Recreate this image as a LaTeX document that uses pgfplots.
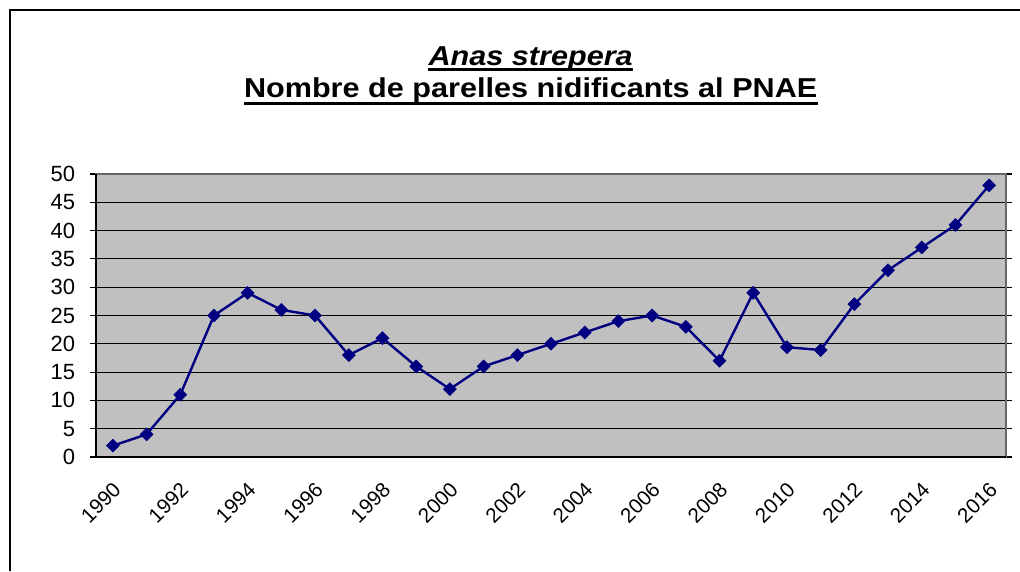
\documentclass[border=0pt]{standalone}
\usepackage{pgfplots}
\pgfplotsset{compat=1.18}
\usepackage{fontspec}
\setmainfont{Liberation Sans}
\definecolor{navy}{HTML}{000080}
\definecolor{plotgray}{HTML}{C0C0C0}
\begin{document}
\begin{tikzpicture}
\useasboundingbox (0,0) rectangle (765pt,428.25pt);
\fill[white] (0,0) rectangle (765pt,428.25pt);
\draw[black, line width=1.1pt] (7.5pt,0) -- (7.5pt,420.75pt) -- (765pt,420.75pt);
\node[anchor=base, inner sep=0pt, xscale=1.12, font=\fontsize{20.5}{24}\selectfont\bfseries\itshape] (t1) at (398pt,379pt) {Anas strepera};
\draw[line width=2pt] ([yshift=-3pt]t1.base west) -- ([yshift=-3pt]t1.base east);
\node[anchor=base, inner sep=0pt, xscale=1.12, font=\fontsize{20.5}{24}\selectfont\bfseries] (t2) at (398pt,355pt) {Nombre de parelles nidificants al PNAE};
\draw[line width=2pt] ([yshift=-4.5pt]t2.base west) -- ([yshift=-4.5pt]t2.base east);
\begin{axis}[
  at={(72pt,85.5pt)}, anchor=south west,
  scale only axis, width=682.5pt, height=212.25pt,
  xmin=-0.5, xmax=26.5, ymin=0, ymax=50,
  axis background/.style={fill=plotgray},
  axis line style={draw=gray!80!black, line width=1pt},
  ytick={0,5,...,50},
  xtick={0,2,...,26},
  xticklabels={1990,1992,1994,1996,1998,2000,2002,2004,2006,2008,2010,2012,2014,2016},
  minor xtick={-0.5,0.5,...,26.5},
  x tick label style={font=\fontsize{15.5}{17}\selectfont, rotate=45, anchor=north east, inner sep=0pt, yshift=-9pt, xshift=-10pt},
  y tick label style={font=\fontsize{16.5}{18}\selectfont, anchor=east, inner sep=0pt, xshift=-11pt},
  /pgf/number format/assume math mode=true,
  tick align=outside,
  xtick style={draw=none},
  minor x tick style={black, line width=0.8pt},
  minor tick length=4.5pt,
  ytick style={black, line width=0.8pt},
  major tick length=4.5pt,
  ymajorgrids, grid style={black, line width=0.8pt},
  xmajorgrids=false,
  clip=false,
]
\addplot[navy, line width=1.8pt, mark=square*, mark size=3.4pt, mark options={fill=navy, line width=0.5pt, rotate=45}] coordinates {
(0,2) (1,4) (2,11) (3,25) (4,29) (5,26) (6,25) (7,18) (8,21) (9,16)
(10,12) (11,16) (12,18) (13,20) (14,22) (15,24) (16,25) (17,23) (18,17) (19,29)
(20,19.4) (21,18.9) (22,27) (23,33) (24,37) (25,41) (26,48)
};
\draw[black, line width=1pt] (rel axis cs:0,1) -- (rel axis cs:0,0) -- (rel axis cs:1,0);
\end{axis}
\end{tikzpicture}
\end{document}
